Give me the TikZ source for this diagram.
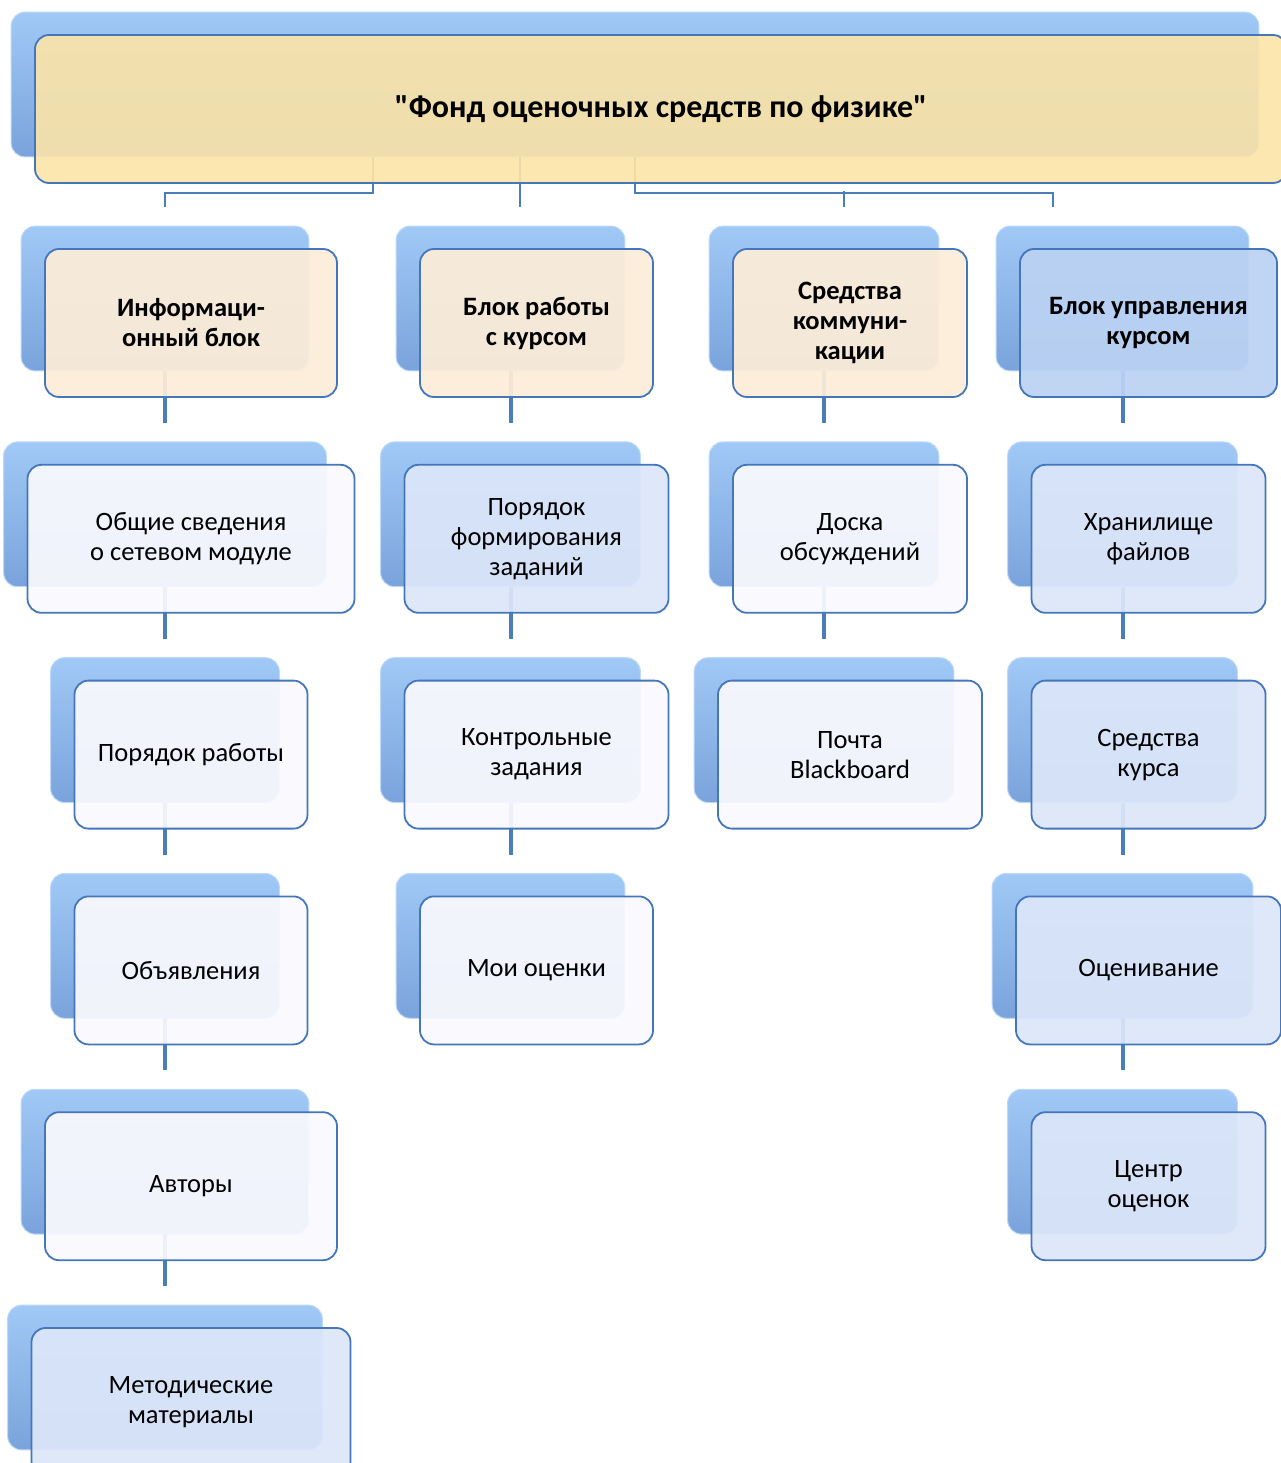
\documentclass[tikz,border=0pt]{standalone}
\usepackage{fontspec}
\setmainfont{Carlito}[Ligatures=TeXOff]
\usepackage{tikz}
\usetikzlibrary{positioning}
\definecolor{linkblue}{RGB}{74,126,187}
\definecolor{boxedge}{RGB}{68,118,188}
\definecolor{backtop}{RGB}{160,201,246}
\definecolor{backbot}{RGB}{122,163,220}
\definecolor{rootfill}{RGB}{252,228,168}
\definecolor{creamfill}{RGB}{253,237,216}
\definecolor{headblue}{RGB}{187,210,243}
\definecolor{whitefill}{RGB}{250,249,254}
\definecolor{lightfill}{RGB}{220,230,249}

\pgfdeclarelayer{back}
\pgfdeclarelayer{mid}
\pgfsetlayers{back,mid,main}

\begin{document}
\begin{tikzpicture}[x=1pt, y=-1pt, node distance=66pt,
    every node/.style={font=\fontsize{26.5}{30}\selectfont},
    front/.style={draw=boxedge, line width=1.8pt, rounded corners=14pt, fill opacity=0.93,
        text opacity=1, align=center, minimum height=148pt, inner sep=2pt},
    head/.style={front, font=\fontsize{26.5}{30}\selectfont\bfseries},
    backbox/.style={rounded corners=14pt, top color=backtop, bottom color=backbot,
        draw=backtop!70!white, line width=1pt},
    link/.style={draw=linkblue, line width=4pt},
    rootlink/.style={draw=linkblue, line width=2.5pt}]
    \useasboundingbox (0,0) rectangle (1281,1463);

    \node[front, fill=rootfill, fill opacity=0.9, font=\fontsize{32}{36}\selectfont\bfseries, minimum width=1252pt] (root) at (661,109) {"Фонд оценочных средств по физике"};

    % heads of the four blocks
    \node[head, fill=creamfill, minimum width=292pt] (info) at (191,323) {Информаци-\\онный блок};
    \node[head, fill=creamfill, minimum width=233pt] (kurs) at (536.5,323) {Блок работы\\с курсом};
    \node[head, fill=creamfill, minimum width=234pt] (komm) at (850,323) {Средства\\коммуни-\\кации};
    \node[head, fill=headblue, minimum width=257pt] (upr) at (1148.5,323) {Блок управления\\курсом};

    % information block
    \node[front, fill=whitefill, minimum width=327pt, below=of info] (svedeniya) {Общие сведения\\о сетевом модуле};
    \node[front, fill=whitefill, minimum width=233pt, below=of svedeniya] (rabota) {Порядок работы};
    \node[front, fill=whitefill, minimum width=233pt, below=of rabota] (obyavl) {Объявления};
    \node[front, fill=whitefill, minimum width=292pt, below=of obyavl] (avtory) {Авторы};
    \node[front, fill=lightfill, minimum width=319pt, below=of avtory] (metod) {Методические\\материалы};

    % course work
    \node[front, fill=lightfill, minimum width=264pt, below=of kurs] (formir) {Порядок\\формирования\\заданий};
    \node[front, fill=whitefill, minimum width=264pt, below=of formir] (kontrol) {Контрольные\\задания};
    \node[front, fill=whitefill, minimum width=233pt, below=of kontrol] (ocenki) {Мои оценки};

    % communication
    \node[front, fill=whitefill, minimum width=234pt, below=of komm] (doska) {Доска\\обсуждений};
    \node[front, fill=whitefill, minimum width=264pt, below=of doska] (pochta) {Почта\\Blackboard};

    % course management
    \node[front, fill=lightfill, minimum width=234pt, below=of upr] (hranil) {Хранилище\\файлов};
    \node[front, fill=lightfill, minimum width=234pt, below=of hranil] (sredstva) {Средства\\курса};
    \node[front, fill=lightfill, minimum width=265pt, below=of sredstva] (ocenivanie) {Оценивание};
    \node[front, fill=lightfill, minimum width=234pt, below=of ocenivanie] (centr) {Центр\\оценок};

    \begin{pgfonlayer}{back}
        \foreach \n in {root,info,kurs,komm,upr,svedeniya,rabota,obyavl,avtory,metod,
                formir,kontrol,ocenki,doska,pochta,hranil,sredstva,ocenivanie,centr}
            \path[backbox] ([shift={(-23pt,22pt)}]\n.north west) rectangle ([shift={(-29pt,27pt)}]\n.south east);
    \end{pgfonlayer}

    \begin{pgfonlayer}{mid}
        \coordinate (j1) at (165,207);
        \coordinate (j2) at (520,207);
        \coordinate (j3) at (844,207);
        \coordinate (j4) at (1053,207);
        \draw[rootlink] ([shift={(-288pt,27pt)}]root.south) -- ++(0,36) -| (j1);
        \draw[rootlink] ([shift={(-141pt,27pt)}]root.south) -- (j2);
        \draw[rootlink] ([shift={(-26pt,27pt)}]root.south) -- ++(0,36) -| (j4);
        \draw[rootlink] (j3) -- ++(0,-16);
        \foreach \a/\b in {info/svedeniya, svedeniya/rabota, rabota/obyavl, obyavl/avtory, avtory/metod,
                kurs/formir, formir/kontrol, kontrol/ocenki, komm/doska, doska/pochta,
                upr/hranil, hranil/sredstva, sredstva/ocenivanie, ocenivanie/centr}
            \draw[link] ([shift={(-26pt,27pt)}]\a.south) -- ([shift={(-26pt,41pt)}]\b.north);
    \end{pgfonlayer}
\end{tikzpicture}
\end{document}
